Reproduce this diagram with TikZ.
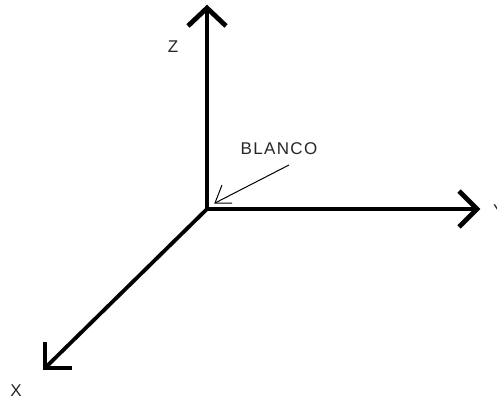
\documentclass[tikz,border=0pt]{standalone}
\usepackage{fontspec}
\setmainfont{Liberation Sans}
\newfontfamily\spacedfont[LetterSpace=8]{Liberation Sans}
\begin{document}
\begin{tikzpicture}[x=1pt,y=-1pt,
  axis/.style={line width=3.8pt},
  head/.style={line width=4.8pt, line join=miter},
  lead/.style={line width=1pt},
  lbl/.style={font=\fontsize{17}{17}\selectfont, inner sep=0pt, text=black!85}]
\useasboundingbox (0,0) rectangle (497,401);
% axis points
\coordinate (O) at (207,209);
\coordinate (Zt) at (207,8);
\coordinate (Yt) at (477,209);
\coordinate (Xt) at (45,368);
% axes
\draw[axis] (O) -- (Zt);
\draw[axis] (O) -- (Yt);
\draw[axis] (O) -- (Xt);
% arrow heads
\draw[head] ([shift={(-19,18)}]Zt) -- (Zt) -- ++(19,18);
\draw[head] ([shift={(-18,-18)}]Yt) -- (Yt) -- ++(-18,18);
\draw[head] ([shift={(0,-26)}]Xt) -- (Xt) -- ++(27,0);
% labels
\node[lbl] (zlab) at (173,47) {Z};
\node[lbl, anchor=west] (ylab) at (493,211) {Y};
\node[lbl] (xlab) at (16,391) {X};
\node[lbl, font=\spacedfont\fontsize{17}{17}\selectfont] (blanco) at (279,149) {BLANCO};
% leader
\coordinate (ls) at (289,165);
\coordinate (lt) at (215,203);
\draw[lead] (ls) -- (lt);
\draw[lead] ([shift={(7,-18)}]lt) -- (lt) -- ++(17,0);
\end{tikzpicture}
\end{document}
